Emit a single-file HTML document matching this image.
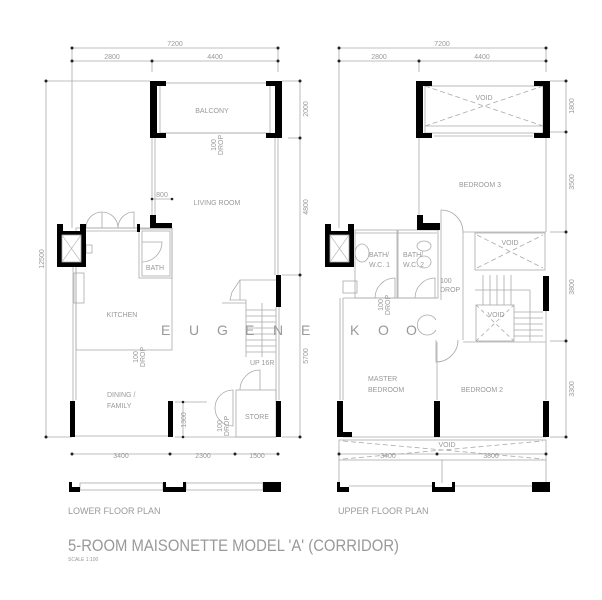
<!DOCTYPE html>
<html><head><meta charset="utf-8"><style>
html,body{margin:0;padding:0;background:#fff;width:602px;height:600px;overflow:hidden}
svg{display:block}
text{font-family:"Liberation Sans",sans-serif;fill:#999}
</style></head><body>
<svg width="602" height="600" viewBox="0 0 602 600" xmlns="http://www.w3.org/2000/svg">
<g stroke="#aaa" stroke-width="0.8" fill="none">
<!-- LOWER dims -->
<line x1="72" y1="48" x2="278" y2="48"/><line x1="72" y1="61" x2="278" y2="61"/>
<line x1="72" y1="48" x2="72" y2="228"/><line x1="152" y1="61" x2="152" y2="72"/><line x1="278" y1="48" x2="278" y2="72"/>
<line x1="46" y1="81" x2="150" y2="81"/><line x1="46" y1="81" x2="46" y2="437"/><line x1="46" y1="437" x2="72" y2="437"/>
<line x1="300" y1="81" x2="300" y2="437"/><line x1="282" y1="81" x2="300" y2="81"/><line x1="288" y1="138" x2="300" y2="138"/><line x1="282" y1="275" x2="300" y2="275"/><line x1="282" y1="437" x2="300" y2="437"/>
<line x1="72" y1="454" x2="278" y2="454"/>
<line x1="152" y1="199" x2="172" y2="199"/>
<!-- balcony -->
<rect x="160" y="83" width="110" height="50"/>
<line x1="166" y1="133" x2="266" y2="133"/>
<!-- living -->
<line x1="152" y1="138" x2="152" y2="218"/><line x1="155" y1="138" x2="155" y2="218"/>
<line x1="278" y1="138" x2="278" y2="275"/><line x1="275" y1="138" x2="275" y2="275"/>
<!-- kitchen -->
<line x1="73" y1="267" x2="73" y2="437"/><line x1="76" y1="267" x2="76" y2="400"/>
<rect x="76" y="228" width="96" height="122"/>
<line x1="86" y1="228" x2="138" y2="228"/><line x1="86" y1="231" x2="138" y2="231"/>
<rect x="139" y="229" width="33" height="49"/><rect x="142" y="231" width="28" height="45"/>
<path d="M86 228 A16 16 0 0 1 102 212 L102 228 M118 228 A16 16 0 0 0 102 212 M118 228 A16 16 0 0 1 134 212 L134 228"/>
<path d="M142 262 A20 20 0 0 0 162 242 L142 242"/>
<rect x="74" y="273" width="10" height="30"/>
<rect x="86" y="245" width="6" height="8"/>
<!-- stair -->
<path d="M222 303 L246 303 L246 357 M246 303 L246 300 L230 300 L232 292 L240 280 L278 280"/>
<line x1="240" y1="280" x2="240" y2="300"/>
<g><line x1="246" y1="310" x2="276" y2="310"/><line x1="246" y1="316" x2="276" y2="316"/><line x1="246" y1="322" x2="276" y2="322"/><line x1="246" y1="328" x2="276" y2="328"/><line x1="246" y1="334" x2="276" y2="334"/><line x1="246" y1="340" x2="276" y2="340"/><line x1="246" y1="346" x2="276" y2="346"/><line x1="246" y1="352" x2="276" y2="352"/></g>
<line x1="262" y1="303" x2="262" y2="357"/>
<line x1="276" y1="307" x2="276" y2="400"/><line x1="279" y1="307" x2="279" y2="400"/>
<!-- store -->
<rect x="236" y="390" width="40" height="47"/>
<path d="M240 390 A20 20 0 0 1 260 370 L260 390"/>
<path d="M233 390 A18 18 0 0 0 215 408 A18 18 0 0 0 233 426 Z"/>
<line x1="175" y1="402" x2="207" y2="402"/><line x1="183" y1="402" x2="183" y2="437"/>
<line x1="75" y1="436" x2="170" y2="436"/><line x1="175" y1="437" x2="276" y2="437"/>
<!-- bottom strip lower -->
<rect x="80" y="483" width="83" height="7"/><rect x="186" y="483" width="77" height="7"/>
<!-- UPPER dims -->
<line x1="339" y1="48" x2="546" y2="48"/><line x1="339" y1="61" x2="546" y2="61"/>
<line x1="339" y1="48" x2="339" y2="228"/><line x1="419" y1="61" x2="419" y2="72"/><line x1="546" y1="48" x2="546" y2="72"/>
<line x1="566" y1="81" x2="566" y2="437"/><line x1="550" y1="81" x2="566" y2="81"/><line x1="550" y1="132" x2="566" y2="132"/><line x1="550" y1="232" x2="566" y2="232"/><line x1="550" y1="341" x2="566" y2="341"/><line x1="550" y1="437" x2="566" y2="437"/>
<line x1="339" y1="454" x2="546" y2="454"/>
<!-- void top -->
<rect x="425" y="86" width="118" height="47"/><line x1="425" y1="126" x2="543" y2="126"/>
<line x1="425" y1="86" x2="543" y2="126" stroke-dasharray="5 3"/><line x1="425" y1="126" x2="543" y2="86" stroke-dasharray="5 3"/>
<line x1="434" y1="136" x2="533" y2="136"/>
<line x1="419" y1="138" x2="419" y2="218"/><line x1="546" y1="138" x2="546" y2="232"/><line x1="463" y1="232" x2="546" y2="232"/>
<!-- baths -->
<rect x="355" y="230" width="42" height="68"/><rect x="398" y="230" width="40" height="68"/>
<line x1="355" y1="233" x2="437" y2="233"/>
<ellipse cx="362" cy="253" rx="7" ry="9"/><ellipse cx="424" cy="246" rx="7" ry="5"/><ellipse cx="424" cy="262" rx="7" ry="6"/><rect x="343" y="281" width="14" height="12"/>
<path d="M375 298 A20 20 0 0 1 395 278 L395 298 M415 298 A20 20 0 0 1 435 278 L435 298"/>
<!-- corridor doors -->
<path d="M441 232 L441 210 A22 22 0 0 1 463 232 M441 232 L441 300"/>
<path d="M436 340 L436 362 A22 22 0 0 0 458 340"/>
<path d="M436 320 A10 10 0 1 0 436 330"/>
<line x1="463" y1="232" x2="463" y2="340"/>
<!-- void mid & stair -->
<rect x="475" y="233" width="70" height="37"/><line x1="477" y1="235" x2="543" y2="268" stroke-dasharray="5 3"/><line x1="477" y1="268" x2="543" y2="235" stroke-dasharray="5 3"/>
<rect x="476" y="305" width="38" height="36"/><line x1="476" y1="305" x2="514" y2="341" stroke-dasharray="4 3"/><line x1="476" y1="341" x2="514" y2="305" stroke-dasharray="4 3"/>
<g><line x1="483" y1="275" x2="483" y2="305"/><line x1="490" y1="275" x2="490" y2="305"/><line x1="497" y1="275" x2="497" y2="305"/><line x1="504" y1="275" x2="504" y2="305"/><line x1="511" y1="275" x2="511" y2="305"/>
<line x1="514" y1="312" x2="543" y2="312"/><line x1="514" y1="318" x2="543" y2="318"/><line x1="514" y1="324" x2="543" y2="324"/><line x1="514" y1="330" x2="543" y2="330"/><line x1="514" y1="336" x2="543" y2="336"/>
<line x1="475" y1="290" x2="530" y2="290"/><line x1="530" y1="290" x2="530" y2="341"/></g>
<line x1="546" y1="310" x2="546" y2="400"/><line x1="463" y1="342" x2="546" y2="342"/>
<!-- bedrooms -->
<line x1="340" y1="298" x2="340" y2="400"/><line x1="343" y1="298" x2="343" y2="400"/>
<line x1="343" y1="298" x2="437" y2="298"/><line x1="437" y1="342" x2="437" y2="400"/>
<line x1="343" y1="437" x2="546" y2="437"/>
<!-- void bottom -->
<rect x="339" y="440" width="207" height="20"/><line x1="343" y1="441" x2="543" y2="459" stroke-dasharray="5 3"/><line x1="343" y1="459" x2="543" y2="441" stroke-dasharray="5 3"/>
<line x1="339" y1="460" x2="339" y2="483"/><line x1="442" y1="460" x2="442" y2="483"/><line x1="546" y1="460" x2="546" y2="483"/>
<line x1="349" y1="486" x2="432" y2="486"/><line x1="455" y1="486" x2="532" y2="486"/>
</g>
<!-- dim ticks -->
<g fill="#222">
<circle cx="72" cy="48" r="1.5"/><circle cx="278" cy="48" r="1.5"/><circle cx="72" cy="61" r="1.5"/><circle cx="152" cy="61" r="1.5"/><circle cx="278" cy="61" r="1.5"/>
<circle cx="46" cy="81" r="1.5"/><circle cx="46" cy="437" r="1.5"/><circle cx="300" cy="81" r="1.5"/><circle cx="300" cy="138" r="1.5"/><circle cx="300" cy="275" r="1.5"/><circle cx="300" cy="437" r="1.5"/>
<circle cx="72" cy="454" r="1.5"/><circle cx="170" cy="454" r="1.5"/><circle cx="235" cy="454" r="1.5"/><circle cx="278" cy="454" r="1.5"/>
<circle cx="152" cy="199" r="1.3"/><circle cx="172" cy="199" r="1.3"/><circle cx="183" cy="402" r="1.3"/><circle cx="183" cy="437" r="1.3"/>
<circle cx="339" cy="48" r="1.5"/><circle cx="546" cy="48" r="1.5"/><circle cx="339" cy="61" r="1.5"/><circle cx="419" cy="61" r="1.5"/><circle cx="546" cy="61" r="1.5"/>
<circle cx="566" cy="81" r="1.5"/><circle cx="566" cy="132" r="1.5"/><circle cx="566" cy="232" r="1.5"/><circle cx="566" cy="341" r="1.5"/><circle cx="566" cy="437" r="1.5"/>
<circle cx="339" cy="454" r="1.5"/><circle cx="437" cy="454" r="1.5"/><circle cx="546" cy="454" r="1.5"/>
</g>
<!-- black walls -->
<g fill="#000">
<path d="M150 81 H166 V86 H157 V133 H166 V138 H150 Z"/>
<path d="M282 81 H266 V86 H275 V133 H266 V138 H282 Z"/>
<path d="M57 224 H63 V231 H80 V224 H86 V267 H57 Z"/>
<path d="M150 215 H156 V223 H172 V228 H150 Z"/><rect x="137" y="224" width="3" height="8"/>
<rect x="276" y="275" width="5" height="32"/>
<rect x="70" y="401" width="5" height="36"/><rect x="168" y="401" width="5" height="36"/><rect x="276" y="401" width="5" height="36"/>
<path d="M69 482 H72 V487 H80 V492 H69 Z"/><path d="M163 482 H166 V487 H183 V482 H186 V492 H163 Z"/><rect x="263" y="482" width="18" height="10"/>
<path d="M416 81 H432 V86 H423 V133 H432 V138 H416 Z"/>
<path d="M550 81 H534 V86 H543 V133 H534 V138 H550 Z"/>
<path d="M325 224 H331 V231 H348 V224 H354 V267 H325 Z"/>
<path d="M417 215 H423 V223 H440 V230 H417 Z"/>
<rect x="543" y="276" width="6" height="35"/>
<path d="M337 401 H343 V432 H352 V437 H337 Z"/><rect x="434" y="401" width="6" height="36"/><rect x="543" y="401" width="6" height="36"/>
<path d="M337 482 H340 V487 H349 V492 H337 Z"/><path d="M432 482 H435 V487 H452 V482 H455 V492 H432 Z"/><rect x="532" y="482" width="18" height="10"/>
</g>
<g fill="#fff" stroke="#aaa" stroke-width="0.8"><rect x="62" y="235" width="19" height="27"/><rect x="330" y="235" width="19" height="27"/></g>
<g stroke="#aaa" stroke-width="0.6"><line x1="62" y1="235" x2="81" y2="262"/><line x1="81" y1="235" x2="62" y2="262"/><line x1="330" y1="235" x2="349" y2="262"/><line x1="349" y1="235" x2="330" y2="262"/></g>
<!-- labels -->
<g font-size="7">
<text x="175" y="46" text-anchor="middle">7200</text><text x="112" y="59" text-anchor="middle">2800</text><text x="215" y="59" text-anchor="middle">4400</text>
<text x="442" y="46" text-anchor="middle">7200</text><text x="379" y="59" text-anchor="middle">2800</text><text x="482" y="59" text-anchor="middle">4400</text>
<text x="121" y="458" text-anchor="middle">3400</text><text x="203" y="458" text-anchor="middle">2300</text><text x="257" y="458" text-anchor="middle">1500</text>
<text x="388" y="458" text-anchor="middle">3400</text><text x="491" y="458" text-anchor="middle">3800</text>
<text x="162" y="197" text-anchor="middle">800</text>
<text x="212" y="113" text-anchor="middle">BALCONY</text><text x="217" y="205" text-anchor="middle">LIVING ROOM</text>
<text x="155" y="270" text-anchor="middle">BATH</text><text x="122" y="317" text-anchor="middle">KITCHEN</text>
<text x="107" y="397">DINING  /</text><text x="107" y="408">FAMILY</text><text x="257" y="419" text-anchor="middle">STORE</text>
<text x="250" y="365">UP  16R</text>
<text x="484" y="100" text-anchor="middle">VOID</text><text x="480" y="187" text-anchor="middle">BEDROOM  3</text>
<text x="369" y="257">BATH/</text><text x="369" y="267">W.C.  1</text><text x="403" y="257">BATH/</text><text x="403" y="267">W.C.  2</text>
<text x="510" y="245" text-anchor="middle">VOID</text><text x="496" y="317" text-anchor="middle">VOID</text>
<text x="440" y="283">100</text><text x="440" y="292">DROP</text>
<text x="368" y="381">MASTER</text><text x="368" y="392">BEDROOM</text><text x="482" y="392" text-anchor="middle">BEDROOM  2</text>
<text x="447" y="447" text-anchor="middle">VOID</text>
</g>
<g font-size="7">
<text transform="translate(44,259) rotate(-90)" text-anchor="middle">12500</text>
<text transform="translate(308,109) rotate(-90)" text-anchor="middle">2000</text>
<text transform="translate(308,207) rotate(-90)" text-anchor="middle">4800</text>
<text transform="translate(308,356) rotate(-90)" text-anchor="middle">5700</text>
<text transform="translate(574,106) rotate(-90)" text-anchor="middle">1800</text>
<text transform="translate(574,182) rotate(-90)" text-anchor="middle">3500</text>
<text transform="translate(574,287) rotate(-90)" text-anchor="middle">3800</text>
<text transform="translate(574,389) rotate(-90)" text-anchor="middle">3300</text>
<text transform="translate(186,420) rotate(-90)" text-anchor="middle">1300</text>
<text transform="translate(216,145) rotate(-90)" text-anchor="middle">100</text><text transform="translate(223,145) rotate(-90)" text-anchor="middle">DROP</text>
<text transform="translate(138,357) rotate(-90)" text-anchor="middle">100</text><text transform="translate(145,357) rotate(-90)" text-anchor="middle">DROP</text>
<text transform="translate(222,426) rotate(-90)" text-anchor="middle">100</text><text transform="translate(229,426) rotate(-90)" text-anchor="middle">DROP</text>
<text transform="translate(383,305) rotate(-90)" text-anchor="middle">100</text><text transform="translate(390,305) rotate(-90)" text-anchor="middle">DROP</text>
</g>
<g font-size="14" fill="#ccc" style="fill:#d0d0d0">
<text x="161" y="335">E</text><text x="189" y="335">U</text><text x="217" y="335">G</text><text x="245" y="335">E</text><text x="273" y="335">N</text><text x="301" y="335">E</text>
<text x="350" y="335">K</text><text x="378" y="335">O</text><text x="406" y="335">O</text>
</g>
<text x="68" y="514" font-size="9">LOWER FLOOR PLAN</text>
<text x="338" y="514" font-size="9">UPPER FLOOR PLAN</text>
<text x="68" y="551" font-size="17" textLength="331" lengthAdjust="spacingAndGlyphs">5-ROOM MAISONETTE MODEL 'A' (CORRIDOR)</text>
<text x="68" y="561" font-size="5">SCALE  1:100</text>
</svg>
</body></html>
